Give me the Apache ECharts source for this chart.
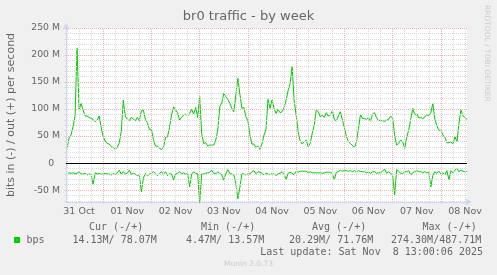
<!DOCTYPE html>
<html>
<head>
<meta charset="utf-8">
<script src="https://cdn.jsdelivr.net/npm/echarts@6/dist/echarts.min.js"></script>
<style>
html,body{margin:0;padding:0;background:#f0f0f0;}
#c{width:497px;height:275px;}
</style>
</head>
<body>
<div id="c"></div>
<script>
// ---- data (values in M bits/s), hourly samples starting 31 Oct 06:00 ----
const startHour = 6;            // hours after 31 Oct 00:00
const stepHours = 1;
const outVals = [
 27.2,45.7,51.9,67.3,87.1,212.4,98.2,110.5,98.2,87.1,
 87.1,84.6,82.7,80.9,76.6,79.6,87.1,66.1,48.8,40.8,
 36.4,35.2,30.3,29.0,25.3,29.0,37.7,58.0,116.7,87.1,
 80.9,78.4,84.6,81.5,78.4,84.6,78.4,96.9,98.2,80.9,
 74.7,62.4,62.4,43.8,31.5,31.5,27.2,25.3,29.0,47.6,
 48.8,66.1,88.9,104.3,98.2,93.2,79.6,84.6,88.9,90.8,
 87.1,92.0,99.4,90.8,103.1,84.6,122.9,55.0,36.4,37.7,
 31.5,33.4,33.4,33.4,42.6,61.1,104.3,111.7,129.0,122.9,
 117.9,110.5,101.3,95.1,126.0,156.8,127.8,101.3,103.1,85.8,
 78.4,51.9,35.2,35.2,29.0,31.5,25.3,35.2,51.9,62.4,
 117.9,101.3,116.7,101.3,92.0,99.4,93.2,95.1,103.1,116.7,
 134.0,147.6,178.4,116.7,88.9,58.0,41.4,35.2,39.5,42.6,
 30.3,36.4,55.0,70.4,98.2,95.1,85.8,88.9,84.6,93.2,
 87.1,88.9,96.9,80.9,77.8,87.1,95.1,79.6,66.1,48.8,
 39.5,36.4,32.7,28.4,39.5,64.2,89.5,82.7,82.7,80.9,
 84.6,77.2,90.8,93.2,84.0,78.4,79.6,78.4,77.2,79.6,
 80.9,87.1,82.7,51.9,33.4,36.4,42.6,39.5,27.2,47.6,
 61.1,80.9,101.3,88.9,92.0,83.4,84.6,82.1,85.2,89.5,
 87.1,93.2,110.5,80.9,69.8,59.9,61.1,51.9,47.6,37.7,
 37.7,39.5,35.2,48.8,39.5,73.5,98.2,87.1,84.6,80.9
];
const inVals = [
 -19.8,-18,-19,-18,-20,-19,-16,-20,-20.5,-19,
 -22,-20,-21,-39,-18,-20,-19,-20.5,-20,-19,
 -20,-20.5,-22,-20,-20.5,-18,-13,-20.5,-16,-20,
 -19,-13,-20.5,-19,-20.5,-23,-22,-53,-28,-19,
 -23.5,-20.5,-19,-16,-19,-23.5,-19,-16,-20.5,-16,
 -23.5,-19,-20.5,-31,-20.5,-19,-16,-20,-18,-20.5,
 -19,-44,-20.5,-16,-19,-20,-75,-20,-20.4,-19,
 -18,-17,-13,-19,-20,-16,-19,-22,-31.5,-20,
 -12,-19,-20,-22,-38,-66,-45,-20,-20,-22,
 -20,-20,-16,-14,-20,-16,-17,-19,-22,-19,
 -20,-22,-19,-20,-23,-20,-19,-16,-20,-30,
 -19,-17,-19,-22,-15,-17,-15,-15,-15,-15,
 -18,-16,-18,-18,-18,-18,-18,-19,-18,-17,
 -17,-17,-19,-31,-17,-16,-13,-15,-14,-14,
 -15,-14,-16,-14,-16,-14,-15,-16,-16,-18,
 -16,-19,-16,-16,-19,-18,-18,-15,-11,-19,
 -16,-19,-22,-60,-12,-15,-19,-19,-16,-16,
 -14,-22,-18,-16,-14,-16,-16,-18,-16,-18,
 -17,-44,-23,-16,-19,-15,-20,-18,-22,-14,
 -31,-14,-18,-13,-10,-16,-13,-15,-16,-15
];
// ---- axis ticks / labels ----
const dayLabels = ['31 Oct','01 Nov','02 Nov','03 Nov','04 Nov','05 Nov','06 Nov','07 Nov','08 Nov'];
const xLabelHours = [12,36,60,84,108,132,156,180,204];   // noon of each day
const yLabelValues = [-50,0,50,100,150,200,250];
const xMin = 5.5, xMax = 205, yMin = -72, yMax = 250;

const FONT = '#666666';
const MINOR = '#d9d9d9';
const MAJOR = '#f2b0b0';
const AXIS = '#cfd6f8';

const outData = outVals.map((v,i)=>[startHour + i*stepHours, v]);
const inData = inVals.map((v,i)=>[startHour + i*stepHours, v]);

const minorLines = [], majorLines = [];
for (let h = 6; h <= 204; h += 6) {
  (h % 24 === 0 ? majorLines : minorLines).push({xAxis: h, lineStyle:{color: h % 24 === 0 ? MAJOR : MINOR, type:[1,1], width:1}});
}
for (let v = -70; v <= 250; v += 10) {
  (v % 50 === 0 ? majorLines : minorLines).push({yAxis: v, lineStyle:{color: v % 50 === 0 ? MAJOR : MINOR, type:[1,1], width:1}});
}
const xTicks = []; for (let h = 6; h <= 204; h += 6) xTicks.push(h);
const yTicks = []; for (let v = -70; v <= 250; v += 10) yTicks.push(v);

const chart = echarts.init(document.getElementById('c'), null, {renderer:'canvas', width:497, height:275});
chart.setOption({
  animation: false,
  backgroundColor: '#f0f0f0',
  grid: {left:66, right:30, top:28, bottom:73, show:true, backgroundColor:'#ffffff', borderWidth:0, containLabel:false},
  xAxis: {
    type:'value', min:xMin, max:xMax,
    axisLine:{show:true, onZero:false, lineStyle:{color:AXIS, width:1}, symbol:['none','arrow'], symbolSize:[6,7], symbolOffset:[0,5]},
    axisTick:{show:true, customValues:xTicks, length:2, lineStyle:{color:'#dddddd'}},
    axisLabel:{customValues:xLabelHours, formatter:(v)=>dayLabels[Math.round((v-12)/24)], color:FONT, fontFamily:'DejaVu Sans', fontSize:9.5, margin:5},
    splitLine:{show:false}
  },
  yAxis: {
    type:'value', min:yMin, max:yMax,
    axisLine:{show:true, onZero:false, lineStyle:{color:AXIS, width:1}, symbol:['none','arrow'], symbolSize:[6,7], symbolOffset:[0,5]},
    axisTick:{show:true, customValues:yTicks, length:2, lineStyle:{color:'#dddddd'}},
    axisLabel:{customValues:yLabelValues, formatter:(v)=> v===0 ? '0  ' : (v + ' M'), color:FONT, fontFamily:'DejaVu Sans', fontSize:9.3, margin:6},
    splitLine:{show:false}
  },
  series: [
    {type:'line', data:[], z:1, silent:true,
     markLine:{silent:true, symbol:['none','none'], label:{show:false}, animation:false, data: minorLines.concat(majorLines)}},
    {type:'line', data:[], z:2, silent:true,
     markLine:{silent:true, symbol:['none','none'], label:{show:false}, animation:false,
       data:[{yAxis:0, lineStyle:{color:'#000000', type:'solid', width:1}}]}},
    {name:'out', type:'line', data:outData, showSymbol:false, z:3, lineStyle:{color:'#00cc00', width:1}, itemStyle:{color:'#00cc00'}},
    {name:'in', type:'line', data:inData, showSymbol:false, z:3, lineStyle:{color:'#00cc00', width:1}, itemStyle:{color:'#00cc00'}}
  ],
  graphic: [
    {type:'text', left:'center', top:10, style:{text:'br0 traffic - by week', fill:FONT, font:'13px "DejaVu Sans"'}},
    {type:'text', x:11, y:115, rotation:Math.PI/2, style:{text:'bits in (-) / out (+) per second', fill:FONT, font:'11px "DejaVu Sans"', textAlign:'center', textVerticalAlign:'middle'}},
    {type:'text', x:487, y:5, rotation:-Math.PI/2, style:{text:'RRDTOOL / TOBI OETIKER', fill:'#cccccc', font:'7.5px "DejaVu Sans"', textAlign:'left', textVerticalAlign:'middle'}},
    {type:'text', x:89, y:227.5, style:{text:'Cur (-/+)', fill:FONT, font:'10px "DejaVu Sans Mono"', textVerticalAlign:'middle'}},
    {type:'text', x:201, y:227.5, style:{text:'Min (-/+)', fill:FONT, font:'10px "DejaVu Sans Mono"', textVerticalAlign:'middle'}},
    {type:'text', x:312, y:227.5, style:{text:'Avg (-/+)', fill:FONT, font:'10px "DejaVu Sans Mono"', textVerticalAlign:'middle'}},
    {type:'text', x:422.5, y:227.5, style:{text:'Max (-/+)', fill:FONT, font:'10px "DejaVu Sans Mono"', textVerticalAlign:'middle'}},
    {type:'rect', shape:{x:14, y:237, width:6, height:6}, style:{fill:'#00cc00'}},
    {type:'text', x:26.5, y:240, style:{text:'bps', fill:FONT, font:'10px "DejaVu Sans Mono"', textVerticalAlign:'middle'}},
    {type:'text', x:72.5, y:240, style:{text:'14.13M/ 78.07M', fill:FONT, font:'10px "DejaVu Sans Mono"', textVerticalAlign:'middle'}},
    {type:'text', x:186, y:240, style:{text:'4.47M/ 13.57M', fill:FONT, font:'10px "DejaVu Sans Mono"', textVerticalAlign:'middle'}},
    {type:'text', x:289, y:240, style:{text:'20.29M/ 71.76M', fill:FONT, font:'10px "DejaVu Sans Mono"', textVerticalAlign:'middle'}},
    {type:'text', x:391, y:240, style:{text:'274.30M/487.71M', fill:FONT, font:'10px "DejaVu Sans Mono"', textVerticalAlign:'middle'}},
    {type:'text', x:483, y:252, style:{text:'Last update: Sat Nov  8 13:00:06 2025', fill:FONT, font:'10px "DejaVu Sans Mono"', textAlign:'right', textVerticalAlign:'middle'}},
    {type:'text', x:248.5, y:264, style:{text:'Munin 2.0.73', fill:'#cccccc', font:'7.5px "DejaVu Sans"', textAlign:'center', textVerticalAlign:'middle'}}
  ]
});
</script>
</body>
</html>
